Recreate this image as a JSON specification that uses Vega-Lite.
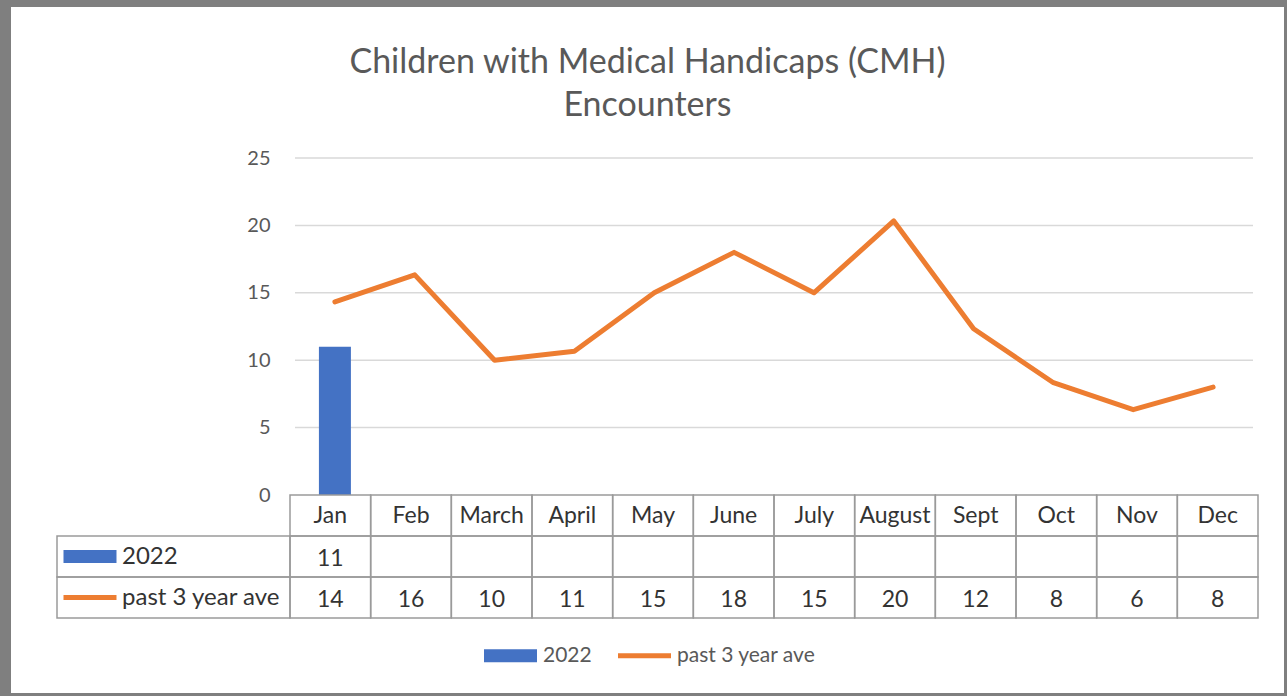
{
  "$schema": "https://vega.github.io/schema/vega-lite/v6.json",
  "width": 1273,
  "height": 686,
  "autosize": {"type": "none"},
  "padding": {"left": 11, "top": 7, "right": 3, "bottom": 3},
  "background": "#7f7f7f",
  "config": {"view": {"fill": "#ffffff", "stroke": null}, "font": "Lato"},
  "title": {
    "text": ["Children with Medical Handicaps (CMH)", "Encounters"],
    "font": "Lato",
    "fontSize": 34,
    "fontWeight": "normal",
    "color": "#595959",
    "lineHeight": 43,
    "anchor": "middle",
    "frame": "group",
    "baseline": "bottom",
    "offset": -150
  },
  "datasets": {
    "enc": [
      {"month": "Jan", "m": 1, "series": "2022", "value": 11},
      {"month": "Jan", "m": 1, "series": "past 3 year ave", "value": 14.33},
      {"month": "Feb", "m": 2, "series": "past 3 year ave", "value": 16.33},
      {"month": "March", "m": 3, "series": "past 3 year ave", "value": 10},
      {"month": "April", "m": 4, "series": "past 3 year ave", "value": 10.67},
      {"month": "May", "m": 5, "series": "past 3 year ave", "value": 15},
      {"month": "June", "m": 6, "series": "past 3 year ave", "value": 18},
      {"month": "July", "m": 7, "series": "past 3 year ave", "value": 15},
      {"month": "August", "m": 8, "series": "past 3 year ave", "value": 20.33},
      {"month": "Sept", "m": 9, "series": "past 3 year ave", "value": 12.33},
      {"month": "Oct", "m": 10, "series": "past 3 year ave", "value": 8.33},
      {"month": "Nov", "m": 11, "series": "past 3 year ave", "value": 6.33},
      {"month": "Dec", "m": 12, "series": "past 3 year ave", "value": 8}
    ],
    "grid": [{"v": 5}, {"v": 10}, {"v": 15}, {"v": 20}, {"v": 25}],
    "series": [{"series": "2022"}, {"series": "past 3 year ave"}]
  },
  "layer": [
    {
      "layer": [
        {
          "data": {"name": "grid"},
          "mark": {"type": "rule", "color": "#d9d9d9", "strokeWidth": 1.5},
          "encoding": {
            "x": {"datum": 0.5, "type": "quantitative", "scale": {"domain": [0.5, 12.5], "range": [279, 1247], "zero": false, "nice": false}, "axis": null},
            "x2": {"datum": 12.5},
            "y": {
              "field": "v", "type": "quantitative",
              "scale": {"domain": [0, 25], "range": [488, 151], "zero": false, "nice": false},
              "axis": {"values": [0, 5, 10, 15, 20, 25], "grid": false, "domain": false, "ticks": false, "offset": -279, "labelPadding": 20, "labelFont": "Lato", "labelFontSize": 20, "labelColor": "#595959", "title": null}
            }
          }
        },
        {
          "data": {"name": "enc"},
          "transform": [{"filter": "datum.series == '2022'"}],
          "mark": {"type": "bar", "width": 32, "opacity": 1},
          "encoding": {
            "x": {"field": "m", "type": "quantitative", "axis": null},
            "y": {"field": "value", "type": "quantitative"},
            "color": {
              "field": "series", "type": "nominal",
              "scale": {"domain": ["2022", "past 3 year ave"], "range": ["#4472C4", "#ED7D31"]},
              "legend": {
                "orient": "none", "legendX": 473, "legendY": 622, "direction": "horizontal", "title": null, "padding": 0,
                "labelFont": "Lato", "labelFontSize": 21, "labelColor": "#595959", "labelOffset": 6, "columnPadding": 26,
                "symbolType": "M-1,-0.27H1V0.27H-1Z", "symbolSize": 2809, "symbolStrokeWidth": 0, "symbolOpacity": 1,
                "encode": {"symbols": {"update": {
                  "shape": {"signal": "datum.value == '2022' ? 'M-1,-0.27H1V0.27H-1Z' : 'M-1,-0.1H1V0.1H-1Z'"},
                  "fill": {"scale": "color", "field": "value"},
                  "opacity": {"value": 1},
                  "strokeWidth": {"value": 0}
                }}}
              }
            }
          }
        },
        {
          "data": {"name": "enc"},
          "transform": [{"filter": "datum.series == 'past 3 year ave'"}],
          "mark": {"type": "line", "strokeWidth": 5, "strokeCap": "round", "strokeJoin": "round"},
          "encoding": {
            "x": {"field": "m", "type": "quantitative", "axis": null},
            "y": {"field": "value", "type": "quantitative"},
            "color": {"field": "series", "type": "nominal"}
          }
        }
      ]
    },
    {
      "data": {"name": "enc"},
      "layer": [
        {
          "transform": [{"filter": "datum.series == 'past 3 year ave'"}],
          "mark": {"type": "rect", "fill": "#ffffff", "fillOpacity": 0, "stroke": "#9a9a9a", "strokeWidth": 1.5},
          "encoding": {
            "x": {"field": "month", "type": "nominal", "scale": {"type": "band", "domain": ["Jan", "Feb", "March", "April", "May", "June", "July", "August", "Sept", "Oct", "Nov", "Dec"], "range": [279, 1247], "paddingInner": 0, "paddingOuter": 0}, "axis": null},
            "y": {"datum": "header", "type": "nominal", "scale": {"type": "band", "domain": ["header", "2022", "past 3 year ave"], "range": [488, 611], "paddingInner": 0, "paddingOuter": 0}, "axis": null}
          }
        },
        {
          "transform": [{"filter": "datum.series == 'past 3 year ave'"}],
          "mark": {"type": "rect", "fill": "#ffffff", "fillOpacity": 0, "stroke": "#9a9a9a", "strokeWidth": 1.5},
          "encoding": {
            "x": {"field": "month", "type": "nominal"},
            "y": {"datum": "2022", "type": "nominal"}
          }
        },
        {
          "transform": [{"filter": "datum.series == 'past 3 year ave'"}],
          "mark": {"type": "rect", "fill": "#ffffff", "fillOpacity": 0, "stroke": "#9a9a9a", "strokeWidth": 1.5},
          "encoding": {
            "x": {"field": "month", "type": "nominal"},
            "y": {"datum": "past 3 year ave", "type": "nominal"}
          }
        },
        {
          "transform": [{"filter": "datum.series == 'past 3 year ave'"}],
          "mark": {"type": "text", "font": "Lato", "fontSize": 23, "color": "#333333", "baseline": "middle"},
          "encoding": {
            "x": {"field": "month", "type": "nominal"},
            "y": {"datum": "header", "type": "nominal"},
            "text": {"field": "month"}
          }
        },
        {
          "mark": {"type": "text", "font": "Lato", "fontSize": 23, "color": "#333333", "baseline": "middle", "dy": 2},
          "encoding": {
            "x": {"field": "month", "type": "nominal"},
            "y": {"field": "series", "type": "nominal"},
            "text": {"field": "value", "type": "quantitative", "format": ".0f"}
          }
        }
      ]
    },
    {
      "data": {"name": "series"},
      "layer": [
        {
          "mark": {"type": "rect", "fill": "#ffffff", "fillOpacity": 0, "stroke": "#9a9a9a", "strokeWidth": 1.5},
          "encoding": {
            "x": {"datum": 0, "type": "quantitative", "scale": {"domain": [0, 1], "range": [46, 279], "zero": false, "nice": false}, "axis": null},
            "x2": {"datum": 1},
            "y": {"field": "series", "type": "nominal", "scale": {"type": "band", "domain": ["header", "2022", "past 3 year ave"], "range": [488, 611], "paddingInner": 0, "paddingOuter": 0}, "axis": null}
          }
        },
        {
          "mark": {"type": "text", "align": "left", "baseline": "middle", "font": "Lato", "fontSize": 24, "color": "#333333"},
          "encoding": {
            "x": {"datum": 0.279, "type": "quantitative"},
            "y": {"field": "series", "type": "nominal"},
            "text": {"field": "series"}
          }
        },
        {
          "mark": {"type": "point", "filled": true, "opacity": 1, "size": 2809},
          "encoding": {
            "x": {"datum": 0.1416, "type": "quantitative"},
            "y": {"field": "series", "type": "nominal"},
            "shape": {"field": "series", "type": "nominal", "scale": {"domain": ["2022", "past 3 year ave"], "range": ["M-1,-0.245H1V0.245H-1Z", "M-1,-0.094H1V0.094H-1Z"]}, "legend": null},
            "color": {"field": "series", "type": "nominal"}
          }
        }
      ]
    }
  ],
  "resolve": {"scale": {"x": "independent", "y": "independent"}}
}
